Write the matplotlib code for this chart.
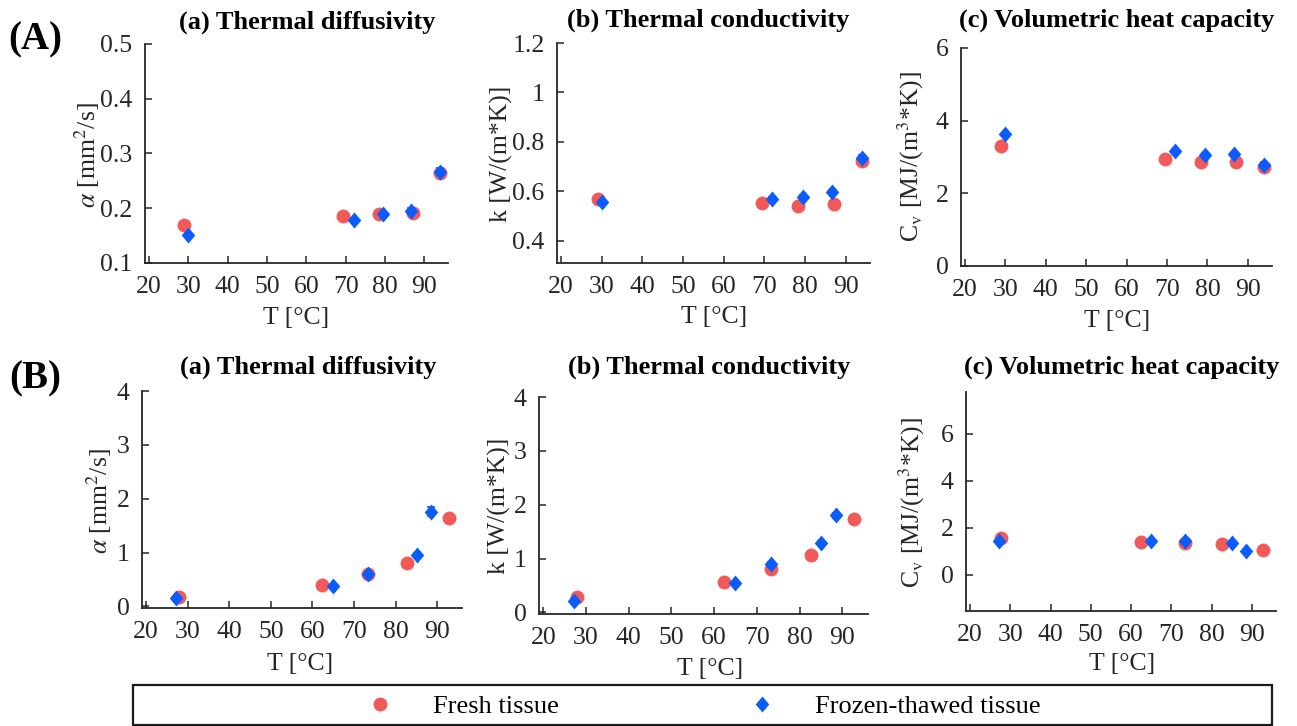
import matplotlib
matplotlib.use("Agg")
import matplotlib.pyplot as plt
from matplotlib.patches import Rectangle
from matplotlib.ticker import FuncFormatter

plt.rcParams['font.family'] = ['Liberation Serif', 'DejaVu Serif']
plt.rcParams['mathtext.fontset'] = 'stix'

# ---------------- data ----------------
# Row A
tA_fresh = [29.0, 69.4, 78.4, 87.2, 94.0]
tA_frozen = [30.0, 72.0, 79.5, 86.7, 94.0]
alphaA_fresh = [0.170, 0.186, 0.190, 0.192, 0.265]
alphaA_frozen = [0.152, 0.178, 0.189, 0.195, 0.267]
alphaA_fresh_err = [0.003, 0.003, 0.004, 0.004, 0.005]
alphaA_frozen_err = [0.003, 0.004, 0.004, 0.005, 0.007]
kA_fresh = [0.568, 0.552, 0.542, 0.549, 0.723]
kA_frozen = [0.558, 0.569, 0.576, 0.596, 0.736]
kA_fresh_err = [0.008, 0.008, 0.008, 0.010, 0.010]
kA_frozen_err = [0.008, 0.008, 0.010, 0.008, 0.012]
cvA_fresh = [3.30, 2.95, 2.85, 2.85, 2.72]
cvA_frozen = [3.62, 3.17, 3.05, 3.07, 2.79]
cvA_fresh_err = [0.05, 0.05, 0.05, 0.05, 0.05]
cvA_frozen_err = [0.05, 0.05, 0.05, 0.05, 0.08]

# Row B
tB_fresh = [27.8, 62.4, 73.3, 82.7, 92.8]
tB_frozen = [27.2, 64.9, 73.3, 85.1, 88.6]
alphaB_fresh = [0.17, 0.40, 0.595, 0.81, 1.65]
alphaB_frozen = [0.15, 0.37, 0.61, 0.96, 1.76]
alphaB_fresh_err = [0.02, 0.02, 0.02, 0.03, 0.05]
alphaB_frozen_err = [0.02, 0.02, 0.03, 0.04, 0.08]
kB_fresh = [0.28, 0.57, 0.80, 1.07, 1.74]
kB_frozen = [0.22, 0.55, 0.89, 1.29, 1.80]
kB_fresh_err = [0.02, 0.02, 0.03, 0.03, 0.06]
kB_frozen_err = [0.02, 0.02, 0.04, 0.04, 0.05]
cvB_fresh = [1.55, 1.39, 1.36, 1.32, 1.04]
cvB_frozen = [1.43, 1.43, 1.43, 1.36, 1.00]
cvB_fresh_err = [0.04, 0.04, 0.05, 0.04, 0.05]
cvB_frozen_err = [0.04, 0.04, 0.05, 0.05, 0.05]

x_ticks = [20, 30, 40, 50, 60, 70, 80, 90]
series_labels = ['Fresh tissue', 'Frozen-thawed tissue']
titles = ['(a) Thermal diffusivity', '(b) Thermal conductivity', '(c) Volumetric heat capacity']
row_labels = ['(A)', '(B)']
xlabel = 'T [°C]'
ylabels = [r'$\alpha$ [mm$^2$/s]', 'k [W/(m*K)]', r'C$_\mathrm{v}$ [MJ/(m$^3$*K)]']

# ---------------- style ----------------
W, H = 1297, 726
RED = '#f25a5a'
BLUE = '#0b5cff'
DARK = '#262626'
diamond = [(0, 1), (0.85, 0), (0, -1), (-0.85, 0), (0, 1)]

fig = plt.figure(figsize=(W / 100, H / 100), dpi=100)


def px(x, y):
    return x / W, 1 - y / H


def make_ax(left, right, top, bottom):
    return fig.add_axes([left / W, 1 - bottom / H, (right - left) / W, (bottom - top) / H])


panels = [
    dict(box=(145, 448, 44, 263), tf=tA_fresh, tz=tA_frozen, yf=alphaA_fresh, yz=alphaA_frozen,
         ef=alphaA_fresh_err, ez=alphaA_frozen_err, ylim=(0.1, 0.5), yticks=[0.1, 0.2, 0.3, 0.4, 0.5],
         title=(307, 22), ylab=(87, 155), xlab=(296, 318)),
    dict(box=(557, 870, 43, 263), tf=tA_fresh, tz=tA_frozen, yf=kA_fresh, yz=kA_frozen,
         ef=kA_fresh_err, ez=kA_frozen_err, ylim=(0.31, 1.2), yticks=[0.4, 0.6, 0.8, 1.0, 1.2],
         title=(708, 20), ylab=(501, 154), xlab=(714, 317)),
    dict(box=(961, 1272, 48, 266), tf=tA_fresh, tz=tA_frozen, yf=cvA_fresh, yz=cvA_frozen,
         ef=cvA_fresh_err, ez=cvA_frozen_err, ylim=(0, 6), yticks=[0, 2, 4, 6],
         title=(1117, 20), ylab=(911, 157), xlab=(1117, 321)),
    dict(box=(142, 462, 391, 608), tf=tB_fresh, tz=tB_frozen, yf=alphaB_fresh, yz=alphaB_frozen,
         ef=alphaB_fresh_err, ez=alphaB_frozen_err, ylim=(-0.03, 4), yticks=[0, 1, 2, 3, 4],
         title=(308, 367), ylab=(99, 501), xlab=(300, 664)),
    dict(box=(539, 868, 397, 614), tf=tB_fresh, tz=tB_frozen, yf=kB_fresh, yz=kB_frozen,
         ef=kB_fresh_err, ez=kB_frozen_err, ylim=(-0.03, 4), yticks=[0, 1, 2, 3, 4],
         title=(709, 367), ylab=(499, 506), xlab=(710, 669)),
    dict(box=(966, 1276, 392, 611), tf=tB_fresh, tz=tB_frozen, yf=cvB_fresh, yz=cvB_frozen,
         ef=cvB_fresh_err, ez=cvB_frozen_err, ylim=(-1.55, 7.77), yticks=[0, 2, 4, 6],
         title=(1122, 367), ylab=(912, 503), xlab=(1122, 664)),
]

handles = None
for i, p in enumerate(panels):
    ax = make_ax(*p['box'])
    h1 = ax.errorbar(p['tf'], p['yf'], yerr=p['ef'], fmt='o', color=RED, ecolor=RED,
                     markersize=10, elinewidth=1.2, capsize=3, capthick=1.2, markeredgewidth=0,
                     label=series_labels[0], zorder=3)
    ax.errorbar(p['tz'], p['yz'], yerr=p['ez'], fmt='none', ecolor=BLUE,
                elinewidth=1.2, capsize=3, capthick=1.2, zorder=4)
    m2, = ax.plot(p['tz'], p['yz'], linestyle='none', marker=diamond, color=BLUE,
                  markersize=11.5, markeredgewidth=0, label=series_labels[1], zorder=5)
    if handles is None:
        handles = [h1[0], m2]
    ax.set_xlim(19, 96)
    ax.set_ylim(*p['ylim'])
    ax.set_xticks(x_ticks)
    ax.set_yticks(p['yticks'])
    ax.yaxis.set_major_formatter(FuncFormatter(lambda v, pos: '%g' % v))
    for s in ['top', 'right']:
        ax.spines[s].set_visible(False)
    for s in ['left', 'bottom']:
        ax.spines[s].set_linewidth(1.3)
        ax.spines[s].set_color(DARK)
    ax.tick_params(direction='in', length=5, width=1.1, colors=DARK, labelsize=18.5)
    ax.tick_params(axis='x', pad=9.5)
    ax.tick_params(axis='y', pad=9)
    col = i % 3
    tx, ty = p['title']
    fig.text(*px(tx, ty), titles[col], ha='center', va='center', fontsize=19,
             fontweight='bold', color='black')
    lx, ly = p['ylab']
    fig.text(*px(lx, ly), ylabels[col], ha='center', va='center', rotation=90,
             fontsize=18.5, color=DARK)
    xx, xy = p['xlab']
    fig.text(*px(xx, xy), xlabel, ha='center', va='center', fontsize=18.5, color=DARK)

fig.text(*px(35, 40), row_labels[0], ha='center', va='center', fontsize=28, fontweight='bold')
fig.text(*px(35, 379), row_labels[1], ha='center', va='center', fontsize=28, fontweight='bold')

# legend box
x0, y0 = px(133, 725)
fig.add_artist(Rectangle((x0, y0), 1139 / W, 40 / H, transform=fig.transFigure,
                         fill=False, edgecolor='#1a1a1a', linewidth=1.6))
fig.legend(handles, series_labels, loc='center', bbox_to_anchor=px(704, 706), ncol=2,
           frameon=False, fontsize=19, handletextpad=1.5, columnspacing=7.2,
           handlelength=1.0)

fig.savefig('out.png', dpi=100)
